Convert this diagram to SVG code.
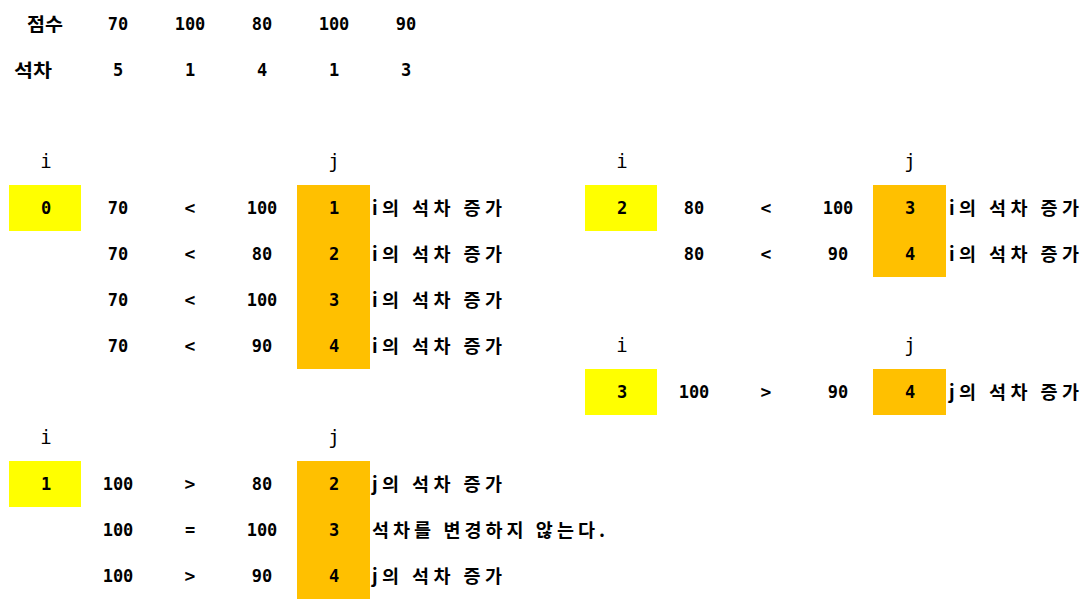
<svg xmlns="http://www.w3.org/2000/svg" width="1092" height="609" viewBox="0 0 1092 609">
<style>
text{font-family:"DejaVu Sans Mono","Noto Sans CJK KR",monospace;font-size:17px;fill:#000;}
.c{text-anchor:middle;}
.n{font-weight:bold;}
.h{font-size:19px;}
.op{font-size:18px;}
.k{font-family:"Noto Sans CJK KR","DejaVu Sans Mono",monospace;font-weight:bold;font-size:18.5px;}
.y{fill:#FFFF00;}
.o{fill:#FFC000;}
</style>
<rect width="1092" height="609" fill="#fff"/>
<g id="header">
<text class="k" x="27" y="31" textLength="36" lengthAdjust="spacingAndGlyphs">점수</text>
<text class="c n" x="118" y="30">70</text>
<text class="c n" x="190" y="30">100</text>
<text class="c n" x="262" y="30">80</text>
<text class="c n" x="334" y="30">100</text>
<text class="c n" x="406" y="30">90</text>
<text class="k" x="14" y="77" textLength="38" lengthAdjust="spacingAndGlyphs">석차</text>
<text class="c n" x="118" y="76">5</text>
<text class="c n" x="190" y="76">1</text>
<text class="c n" x="262" y="76">4</text>
<text class="c n" x="334" y="76">1</text>
<text class="c n" x="406" y="76">3</text>
</g>
<g id="block-i0">
<rect class="y" x="9" y="185" width="72" height="46"/>
<rect class="o" x="297" y="185" width="73" height="184"/>
<text class="c h" x="46" y="168">i</text>
<text class="c h" x="334" y="168">j</text>
<text class="c n" x="46" y="214">0</text>
<text class="c n" x="118" y="214">70</text><text class="c n op" x="190" y="214">&lt;</text><text class="c n" x="262" y="214">100</text><text class="c n" x="334" y="214">1</text>
<text class="k" x="372" y="215" textLength="130" lengthAdjust="spacing">i의 석차 증가</text>
<text class="c n" x="118" y="260">70</text><text class="c n op" x="190" y="260">&lt;</text><text class="c n" x="262" y="260">80</text><text class="c n" x="334" y="260">2</text>
<text class="k" x="372" y="261" textLength="130" lengthAdjust="spacing">i의 석차 증가</text>
<text class="c n" x="118" y="306">70</text><text class="c n op" x="190" y="306">&lt;</text><text class="c n" x="262" y="306">100</text><text class="c n" x="334" y="306">3</text>
<text class="k" x="372" y="307" textLength="130" lengthAdjust="spacing">i의 석차 증가</text>
<text class="c n" x="118" y="352">70</text><text class="c n op" x="190" y="352">&lt;</text><text class="c n" x="262" y="352">90</text><text class="c n" x="334" y="352">4</text>
<text class="k" x="372" y="353" textLength="130" lengthAdjust="spacing">i의 석차 증가</text>
</g>
<g id="block-i1">
<rect class="y" x="9" y="461" width="72" height="46"/>
<rect class="o" x="297" y="461" width="73" height="138"/>
<text class="c h" x="46" y="444">i</text>
<text class="c h" x="334" y="444">j</text>
<text class="c n" x="46" y="490">1</text>
<text class="c n" x="118" y="490">100</text><text class="c n op" x="190" y="490">&gt;</text><text class="c n" x="262" y="490">80</text><text class="c n" x="334" y="490">2</text>
<text class="k" x="372" y="491" textLength="130" lengthAdjust="spacing">j의 석차 증가</text>
<text class="c n" x="118" y="536">100</text><text class="c n" x="190" y="536">=</text><text class="c n" x="262" y="536">100</text><text class="c n" x="334" y="536">3</text>
<text class="k" x="372" y="537" textLength="233" lengthAdjust="spacing">석차를 변경하지 않는다.</text>
<text class="c n" x="118" y="582">100</text><text class="c n op" x="190" y="582">&gt;</text><text class="c n" x="262" y="582">90</text><text class="c n" x="334" y="582">4</text>
<text class="k" x="372" y="583" textLength="130" lengthAdjust="spacing">j의 석차 증가</text>
</g>
<g id="block-i2">
<rect class="y" x="585" y="185" width="72" height="46"/>
<rect class="o" x="873" y="185" width="73" height="92"/>
<text class="c h" x="622" y="168">i</text>
<text class="c h" x="910" y="168">j</text>
<text class="c n" x="622" y="214">2</text>
<text class="c n" x="694" y="214">80</text><text class="c n op" x="766" y="214">&lt;</text><text class="c n" x="838" y="214">100</text><text class="c n" x="910" y="214">3</text>
<text class="k" x="949" y="215" textLength="130" lengthAdjust="spacing">i의 석차 증가</text>
<text class="c n" x="694" y="260">80</text><text class="c n op" x="766" y="260">&lt;</text><text class="c n" x="838" y="260">90</text><text class="c n" x="910" y="260">4</text>
<text class="k" x="949" y="261" textLength="130" lengthAdjust="spacing">i의 석차 증가</text>
</g>
<g id="block-i3">
<rect class="y" x="585" y="369" width="72" height="46"/>
<rect class="o" x="873" y="369" width="73" height="46"/>
<text class="c h" x="622" y="352">i</text>
<text class="c h" x="910" y="352">j</text>
<text class="c n" x="622" y="398">3</text>
<text class="c n" x="694" y="398">100</text><text class="c n op" x="766" y="398">&gt;</text><text class="c n" x="838" y="398">90</text><text class="c n" x="910" y="398">4</text>
<text class="k" x="949" y="399" textLength="130" lengthAdjust="spacing">j의 석차 증가</text>
</g>
</svg>
